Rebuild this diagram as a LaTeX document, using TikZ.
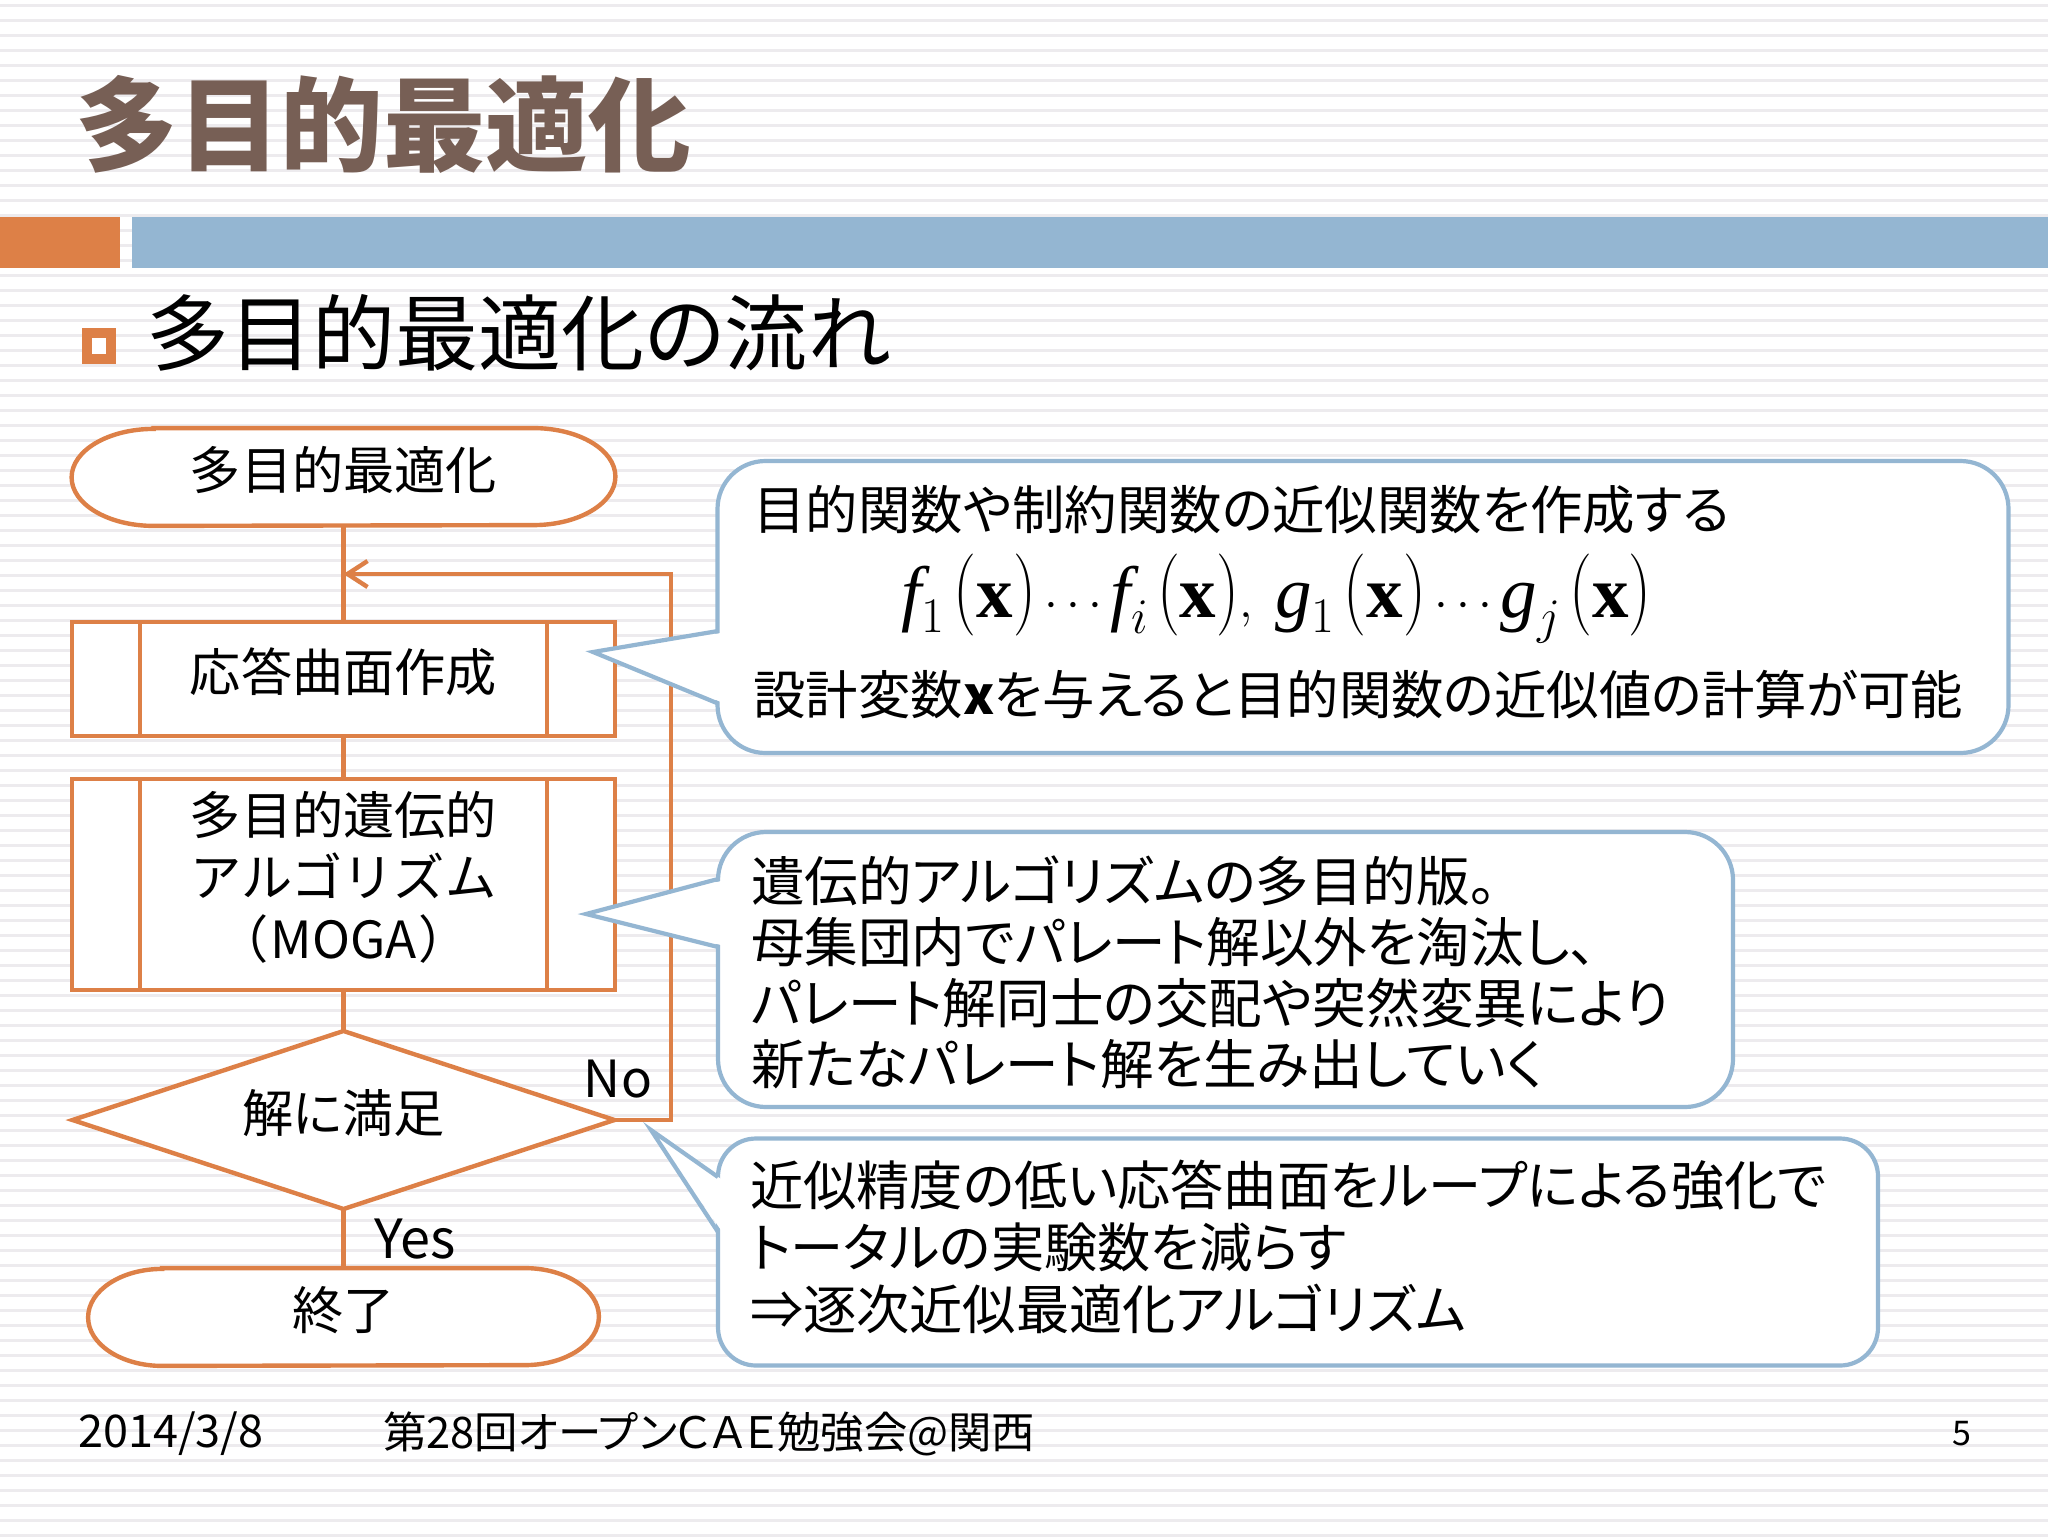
\documentclass[tikz,border=0pt]{standalone}
\usepackage{fontspec}
\setmainfont{Noto Sans CJK JP}[RawFeature=+palt]
\setmathrm{Liberation Serif}
\newfontfamily\jpfixed{Noto Sans CJK JP}
\usetikzlibrary{shapes.geometric, arrows.meta, backgrounds}

\definecolor{slideorange}{HTML}{DD8047}
\definecolor{slideblue}{HTML}{94B6D2}
\definecolor{slidebrown}{HTML}{775F55}
\definecolor{slidestripe}{HTML}{EDEBEE}

\tikzstyle{flowtext} = [text centered, align=center, font=\fontsize{25.6}{31}\selectfont]
\tikzstyle{oneline} = [text height=24pt, text depth=11.2pt, inner sep=0pt]
\tikzstyle{terminal} = [rectangle, flowtext, oneline, minimum height=48.5pt]
\tikzstyle{process} = [rectangle, flowtext, draw=slideorange, line width=2.2pt, fill=white, outer sep=0pt, inner sep=0pt, minimum width=271.5pt]
\tikzstyle{decision} = [diamond, flowtext, oneline, draw=slideorange, line width=2.2pt, fill=white, aspect=3.04, outer sep=0pt, minimum width=271pt, minimum height=89pt]
\tikzstyle{flowline} = [draw=slideorange, line width=2.2pt]
\tikzstyle{arrow} = [flowline, -{Straight Barb[length=10pt,width=13pt,line width=2.2pt]}]
\tikzstyle{callout} = [rectangle, rounded corners=24pt, draw=slideblue, line width=2.1pt, fill=white, align=left, inner xsep=18pt, inner ysep=0pt, outer sep=0pt, font=\fontsize{26.2}{30.5}\selectfont]
\tikzstyle{pointer} = [draw=slideblue, line width=2.1pt, line join=miter]
\tikzstyle{footer} = [anchor=west, inner sep=0pt]

% rounded ends of a terminal: name, horizontal radius
\newcommand{\terminalpath}[2]{
  \draw [flowline, fill=white] ([xshift=#2]#1.north west) -- ([xshift=-#2]#1.north east)
    arc [start angle=90, end angle=-90, x radius=#2, y radius=24.25pt]
    -- ([xshift=#2]#1.south west)
    arc [start angle=270, end angle=90, x radius=#2, y radius=24.25pt] -- cycle;
}
% empty space under the last line of a callout
\newcommand{\liftup}[1]{\par\nointerlineskip\vbox to #1{}}
% bold x between tall parentheses
\newcommand{\argx}{\,\raisebox{1pt}{\scalebox{1.3}[1.65]{$($}}\mathbf{x}\raisebox{1pt}{\scalebox{1.3}[1.65]{$)$}}}

\begin{document}
\begin{tikzpicture}[x=0.5pt, y=-0.5pt, node distance=100pt]
  \useasboundingbox (0,0) rectangle (2048,1536);

  % title and bars
  \node (title) [anchor=west, text=slidebrown, font=\fontsize{51.3}{60}\selectfont\bfseries, inner sep=0pt] at (75,124) {多目的最適化};
  \fill [slideorange] (0,217) rectangle (120,268);
  \fill [slideblue] (132,217) rectangle (2048,268);
  \node (bullet) [rectangle, draw=slideorange, line width=5.2pt, fill=white, minimum width=11.8pt, minimum height=12.8pt, inner sep=0pt] at (99,346) {};
  \node (subtitle) [anchor=west, font=\fontsize{41.5}{48}\selectfont, inner sep=0pt] at (146,333) {多目的最適化の流れ};

  % flow
  \node (start) [terminal, minimum width=271.5pt] at (343.5,477) {多目的最適化};
  \node (proc1) [process, oneline, below of=start, yshift=-1pt, minimum height=57pt] {応答曲面作成};
  \node (proc2) [process, below of=proc1, yshift=-2.75pt, minimum height=105.5pt, text height=80pt, text depth=5.8pt] {多目的遺伝的\\{\jpfixed アルゴリズム}\\（\hspace{2pt}MOGA\hspace{2pt}）};
  \node (dec1) [decision, below of=proc2, yshift=-17.75pt] {解に満足};
  \node (stop) [terminal, below of=dec1, yshift=1.5pt, minimum width=255pt] {終了};

  \begin{scope}[on background layer]
    \fill [white] (0,0) rectangle (2048,1536);
    \foreach \i in {0,...,102}
      \fill [slidestripe] (0,{3.75+15*\i}) rectangle (2048,{7.25+15*\i});
    \terminalpath{start}{41pt}
    \terminalpath{stop}{37pt}
  \end{scope}

  \foreach \n in {proc1,proc2} {
    \draw [flowline] ([xshift=34pt]\n.north west) -- ([xshift=34pt]\n.south west);
    \draw [flowline] ([xshift=-34pt]\n.north east) -- ([xshift=-34pt]\n.south east);
  }

  \coordinate (corner) at (671,574);
  \coordinate (join) at (343.5,574);

  \draw [flowline] (start) -- (proc1);
  \draw [flowline] (proc1) -- (proc2);
  \draw [flowline] (proc2) -- (dec1);
  \draw [flowline] (dec1) -- node (yes) [anchor=west, xshift=14.2pt, inner sep=0pt, font=\fontsize{27}{31}\selectfont] {Yes} (stop);
  \draw [arrow] (dec1.east) -| (corner) -- (join);
  \node (no) [flowtext, inner sep=0pt] at (618,1079) {No};

  % callouts
  \node (note1) [callout, text width=609.5pt, minimum height=146pt] at (1363,607) {目的関数や制約関数の近似関数を作成する\\[9pt]
    \hspace*{74pt}{\fontsize{36.5}{36}\selectfont$\mathit{f}_1\argx\cdots\mathit{f}_i\argx,\;\mathit{g}_1\argx\cdots\mathit{g}_j\argx$}\\[12.5pt]
    設計変数\textbf{x}を与えると目的関数の近似値の計算が可能\liftup{5pt}};
  \node (note2) [callout, inner xsep=16.5pt, text width=474.5pt, minimum height=137.5pt, font=\fontsize{26.8}{30.5}\selectfont] at (1225.5,969.5) {遺伝的アルゴリズムの多目的版。\\母集団内でパレート解以外を淘汰し、\\パレート解同士の交配や突然変異により\\新たなパレート解を生み出していく\liftup{-3.2pt}};
  \node (note3) [callout, rounded corners=19pt, inner xsep=16pt, text width=548pt, minimum height=113.5pt, font=\fontsize{26.6}{31}\selectfont] at (1298,1252) {近似精度の低い応答曲面をループによる強化で\\トータルの実験数を減らす\\⇒逐次近似最適化アルゴリズム\liftup{5.2pt}};

  \coordinate (tip1) at (593,652);
  \coordinate (tip2) at (586,914);
  \coordinate (tip3) at (651,1130);

  \fill [white] (721,633) -- (tip1) -- (721,702) -- cycle;
  \fill [white] (721,881) -- (tip2) -- (721,945) -- cycle;
  \fill [white] (721,1179) -- (tip3) -- (721,1230) -- cycle;
  \draw [pointer] (718,631) -- (tip1) -- (718,703.5);
  \draw [pointer] (718,879) -- (tip2) -- (718,947);
  \draw [pointer] (718,1177) -- (tip3) -- (718,1232);

  % footer
  \node (date) [footer, font=\fontsize{22.5}{26}\selectfont] at (78,1434) {2014/3/8};
  \node (event) [footer, font=\fontsize{21.7}{25}\selectfont] at (383,1434) {第28回オープンＣＡＥ勉強会@関西};
  \node (page) [footer, font=\fontsize{17}{20}\selectfont] at (1952,1434) {5};
\end{tikzpicture}
\end{document}
